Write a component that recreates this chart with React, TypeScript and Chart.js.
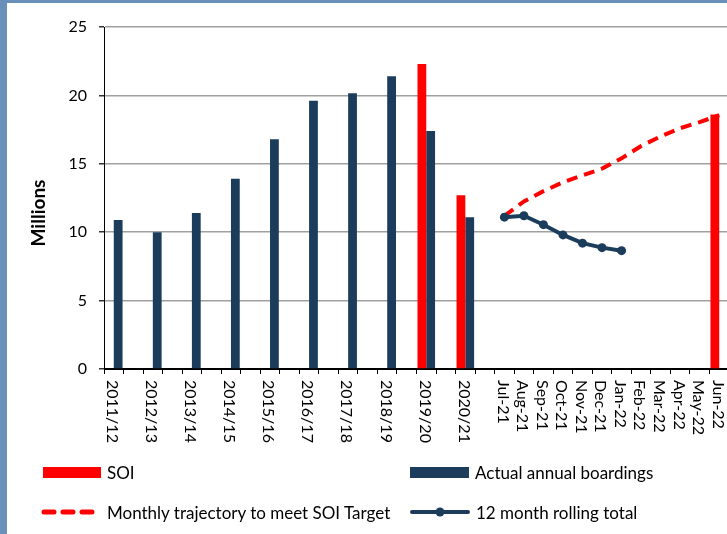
import React, { useEffect, useRef } from 'react';
import { Chart, registerables } from 'chart.js';

Chart.register(...registerables);

// ---- data ----
const fiscalYears = ['2011/12', '2012/13', '2013/14', '2014/15', '2015/16', '2016/17', '2017/18', '2018/19', '2019/20', '2020/21'];
const months = ['Jul-21', 'Aug-21', 'Sep-21', 'Oct-21', 'Nov-21', 'Dec-21', 'Jan-22', 'Feb-22', 'Mar-22', 'Apr-22', 'May-22', 'Jun-22'];
const actualBoardings = [10.9, 10.0, 11.4, 13.9, 16.8, 19.6, 20.15, 21.4, 17.4, 11.1];
const soiFiscal: (number | null)[] = [null, null, null, null, null, null, null, null, 22.3, 12.7];
const soiJun22 = 18.6;
const trajectory = [11.2, 12.25, 13.0, 13.65, 14.15, 14.65, 15.4, 16.3, 17.0, 17.6, 18.05, 18.55];
const rollingTotal = [11.1, 11.2, 10.55, 9.8, 9.2, 8.87, 8.65];
const yTickValues = [0, 5, 10, 15, 20, 25];

const RED = '#ff0000';
const NAVY = '#1b3d5b';
const FONT = 'Lato';

const categories: string[] = [...fiscalYears.flatMap((y) => [y, '']), ...months];
const yearSlots = fiscalYears.length * 2;

const actualData = categories.map((_, i) => (i < yearSlots && i % 2 === 0 ? actualBoardings[i / 2] : null));
const soiData = categories.map((_, i) => {
  if (i < yearSlots && i % 2 === 0) return soiFiscal[i / 2];
  if (i === categories.length - 1) return soiJun22;
  return null;
});
const trajectoryData = categories.map((_, i) => (i >= yearSlots ? trajectory[i - yearSlots] ?? null : null));
const rollingData = categories.map((_, i) => (i >= yearSlots && i - yearSlots < rollingTotal.length ? rollingTotal[i - yearSlots] : null));

const labelPlugin = {
  id: 'customLabels',
  afterDraw(chart: any) {
    const ctx = chart.ctx;
    const xs = chart.scales.x;
    ctx.save();
    ctx.fillStyle = '#000';
    ctx.font = `16px ${FONT}`;
    ctx.textAlign = 'left';
    ctx.textBaseline = 'middle';
    categories.forEach((lab, i) => {
      if (!lab) return;
      const x = xs.getPixelForValue(i);
      ctx.save();
      ctx.translate(x - 1.5, 380);
      ctx.rotate(Math.PI / 2);
      ctx.fillText(lab, 0, 0);
      ctx.restore();
    });
    // y title
    ctx.save();
    ctx.font = `bold 19px ${FONT}`;
    ctx.textAlign = 'center';
    ctx.textBaseline = 'middle';
    ctx.translate(39, 213);
    ctx.rotate(-Math.PI / 2);
    ctx.fillText('Millions', 0, 0);
    ctx.restore();
    ctx.restore();
  },
};

function LegendItem({ left, top, symbol, text }: { left: number; top: number; symbol: React.ReactNode; text: string }) {
  return (
    <div style={{ position: 'absolute', left, top, height: 20, display: 'flex', alignItems: 'center' }}>
      {symbol}
      <span style={{ fontFamily: FONT, fontSize: 17, color: '#000', whiteSpace: 'nowrap', marginLeft: 6 }}>{text}</span>
    </div>
  );
}

export default function App() {
  const ref = useRef<HTMLCanvasElement>(null);
  useEffect(() => {
    if (!ref.current) return;
    const chart = new Chart(ref.current, {
      type: 'bar',
      data: {
        labels: categories,
        datasets: [
          {
            type: 'line',
            label: '12 month rolling total',
            data: rollingData,
            borderColor: NAVY,
            backgroundColor: NAVY,
            borderWidth: 4,
            pointRadius: 4.5,
            pointBackgroundColor: NAVY,
            pointBorderWidth: 0,
            spanGaps: false,
          } as any,
          {
            type: 'line',
            label: 'Monthly trajectory to meet SOI Target',
            data: trajectoryData,
            borderColor: RED,
            borderWidth: 4,
            borderDash: [11, 7],
            pointRadius: 0,
            spanGaps: false,
          } as any,
          {
            type: 'bar',
            label: 'SOI',
            data: soiData,
            backgroundColor: RED,
            categoryPercentage: 0.9,
            barPercentage: 1,
          },
          {
            type: 'bar',
            label: 'Actual annual boardings',
            data: actualData,
            backgroundColor: NAVY,
            categoryPercentage: 0.9,
            barPercentage: 1,
          },
        ],
      },
      options: {
        responsive: false,
        animation: false,
        layout: { padding: { top: 27, right: 6, left: 0, bottom: 0 } },
        plugins: { legend: { display: false }, tooltip: { enabled: false } },
        scales: {
          x: {
            type: 'category',
            offset: true,
            grid: { offset: true, drawOnChartArea: false, drawTicks: true, tickLength: 5, color: '#000', lineWidth: 1 },
            border: { color: '#000', width: 1 },
            ticks: { display: false },
            afterFit: (s: any) => {
              s.height = 165;
            },
          },
          y: {
            min: 0,
            max: 25,
            afterBuildTicks: (s: any) => {
              s.ticks = yTickValues.map((v) => ({ value: v }));
            },
            ticks: { font: { family: FONT, size: 16 }, color: '#000', padding: 12 },
            grid: {
              color: (c: any) => (c.tick && c.tick.value === 0 ? '#000' : '#a0a0a0'),
              lineWidth: 1.5,
              tickLength: 5,
              tickColor: '#333',
            },
            border: { color: '#000', width: 1 },
            afterFit: (s: any) => {
              s.width = 104;
            },
          },
        },
      } as any,
      plugins: [labelPlugin],
    });
    (document as any).fonts?.ready?.then(() => chart.update());
    return () => chart.destroy();
  }, []);

  const border = '#6a8fba';
  return (
    <div style={{ position: 'absolute', left: 0, top: 0, width: 727, height: 534, overflow: 'hidden', background: '#fff' }}>
      <canvas ref={ref} width={735} height={534} style={{ position: 'absolute', left: 0, top: 0, width: 735, height: 534 }} />
      <div style={{ position: 'absolute', left: 0, top: 0, width: 7, height: 534, background: border }} />
      <div style={{ position: 'absolute', left: 0, top: 0, width: 727, height: 3, background: border }} />
      <LegendItem
        left={43}
        top={462}
        text="SOI"
        symbol={<div style={{ width: 58, height: 11, background: RED }} />}
      />
      <LegendItem
        left={410}
        top={462}
        text="Actual annual boardings"
        symbol={<div style={{ width: 59, height: 11, background: NAVY }} />}
      />
      <LegendItem
        left={41}
        top={502}
        text="Monthly trajectory to meet SOI Target"
        symbol={
          <svg width={60} height={10}>
            <line x1={3} y1={5} x2={57} y2={5} stroke={RED} strokeWidth={5} strokeLinecap="round" strokeDasharray="10 9" />
          </svg>
        }
      />
      <LegendItem
        left={410}
        top={502}
        text="12 month rolling total"
        symbol={
          <svg width={60} height={12}>
            <line x1={2} y1={6} x2={58} y2={6} stroke={NAVY} strokeWidth={4} strokeLinecap="round" />
            <circle cx={30} cy={6} r={4.5} fill={NAVY} />
          </svg>
        }
      />
    </div>
  );
}
